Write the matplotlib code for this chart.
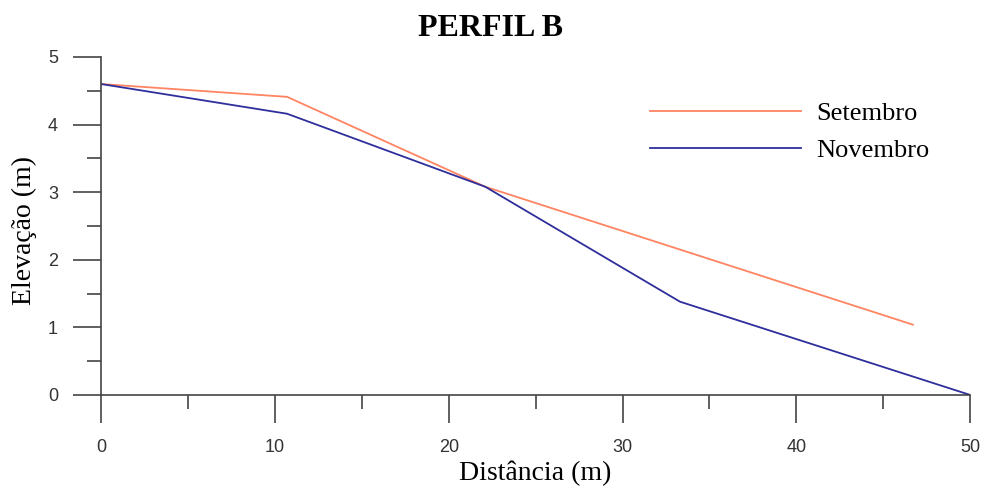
import matplotlib.pyplot as plt
from matplotlib.ticker import MultipleLocator

# dados
dist_set = [0, 10.7, 22.1, 46.7]
elev_set = [4.6, 4.41, 3.08, 1.04]
dist_nov = [0, 10.7, 22.1, 33.3, 50]
elev_nov = [4.6, 4.16, 3.08, 1.38, 0]

fig = plt.figure(figsize=(9.82, 4.87), dpi=100)
ax = fig.add_axes([0.103, 0.189, 0.885, 0.694])

ax.plot(dist_set, elev_set, color='#ff8462', lw=1.3, label='Setembro')
ax.plot(dist_nov, elev_nov, color='#2e2e9c', lw=1.3, label='Novembro')

ax.set_xlim(0, 50)
ax.set_ylim(0, 5)
ax.xaxis.set_major_locator(MultipleLocator(10))
ax.xaxis.set_minor_locator(MultipleLocator(5))
ax.yaxis.set_major_locator(MultipleLocator(1))
ax.yaxis.set_minor_locator(MultipleLocator(0.5))

for s in ['top', 'right']:
    ax.spines[s].set_visible(False)
for s in ['left', 'bottom']:
    ax.spines[s].set_color('#444444')
    ax.spines[s].set_linewidth(1.2)

ax.tick_params(which='major', length=20, width=1.2, color='#444444',
               labelsize=13, labelcolor='#333333', direction='out')
ax.tick_params(which='minor', length=10, width=1.2, color='#444444', direction='out')
ax.tick_params(axis='x', which='major', pad=12)
ax.tick_params(axis='y', which='major', pad=11)
for lbl in ax.get_xticklabels() + ax.get_yticklabels():
    lbl.set_family('Liberation Sans')

ax.set_xlabel('Distância (m)', family='Liberation Serif', fontsize=20)
ax.xaxis.set_label_coords(0.5, -0.195)
ax.set_ylabel('Elevação (m)', family='Liberation Serif', fontsize=20)
ax.yaxis.set_label_coords(-0.074, 0.488)
fig.suptitle('PERFIL B', family='Liberation Serif', fontsize=23, fontweight='bold', y=0.971)

ax.legend(loc='upper right', bbox_to_anchor=(0.98, 0.938), frameon=False,
          prop={'family': 'Liberation Serif', 'size': 19},
          handlelength=5.7, handletextpad=0.57, labelspacing=0.5)

fig.savefig('out.png')
